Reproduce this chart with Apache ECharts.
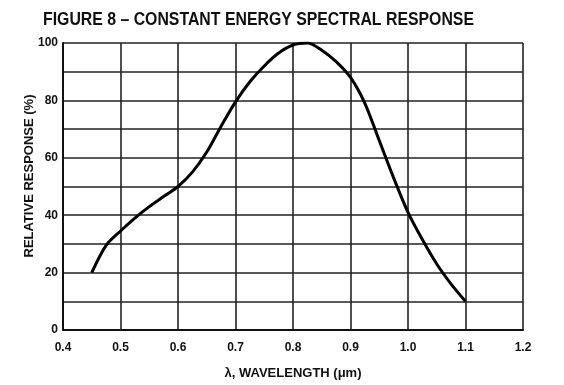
<!DOCTYPE html>
<html>
<head>
<meta charset="utf-8">
<script src="https://cdn.jsdelivr.net/npm/echarts@6/dist/echarts.min.js"></script>
<style>html,body{margin:0;padding:0;background:#fff}#c{width:564px;height:385px}</style>
</head>
<body>
<div id="c"></div>
<script>
var wavelength = [0.45,0.475,0.5,0.525,0.55,0.575,0.6,0.625,0.65,0.675,0.7,0.725,0.75,0.775,0.8,0.825,0.85,0.875,0.9,0.925,0.95,0.975,1.0,1.025,1.05,1.075,1.1];
var response   = [20,29.5,34.5,39,43,46.5,50,55,62,71,79.5,86.5,92,96.5,99.3,100,97.5,93.5,88,79,66,53,41,31.5,23,16,10];
var xTicks = ['0.4','0.5','0.6','0.7','0.8','0.9','1.0','1.1','1.2'];
var yTicks = ['0','20','40','60','80','100'];
var titleText = 'FIGURE 8 \u2013 CONSTANT ENERGY SPECTRAL RESPONSE';
var yName = 'RELATIVE RESPONSE (%)';
var xName = '\u03bb, WAVELENGTH (\u03bcm)';

var pts = wavelength.map(function(w,i){return [w, response[i]];});
var chart = echarts.init(document.getElementById('c'));
var fnt = '"Liberation Sans",Arial,sans-serif';
chart.setOption({
  animation:false,
  graphic:[
    {type:'text',left:43,top:11,scaleX:0.88,
     style:{text:titleText,font:'bold 18px "Liberation Sans", Arial, sans-serif',fill:'#111'}},
    {type:'text',x:29,y:176,rotation:Math.PI/2,
     style:{text:yName,font:'bold 13px "Liberation Sans", Arial, sans-serif',fill:'#111',
       textAlign:'center',textVerticalAlign:'middle'}}
  ],
  grid:{left:63,right:41,top:43,bottom:53},
  xAxis:{type:'value',min:0.4,max:1.2,interval:0.1,
    name:xName,nameLocation:'middle',nameGap:37,
    nameTextStyle:{fontFamily:fnt,fontSize:13,fontWeight:'bold',color:'#111'},
    axisLine:{show:true,lineStyle:{color:'#111',width:2}},
    axisTick:{show:false},
    axisLabel:{fontFamily:fnt,fontSize:12,fontWeight:'bold',color:'#111',margin:12,
      formatter:function(v){var i=Math.round((v-0.4)*10);return xTicks[i]||'';}},
    splitLine:{show:true,lineStyle:{color:'#222',width:1.6}}},
  yAxis:{type:'value',min:0,max:100,interval:10,
    axisLine:{show:true,lineStyle:{color:'#111',width:2}},
    axisTick:{show:false},
    axisLabel:{fontFamily:fnt,fontSize:12,fontWeight:'bold',color:'#111',margin:5,
      formatter:function(v){return (v%20===0)?yTicks[v/20]:'';}},
    splitLine:{show:true,lineStyle:{color:'#222',width:1.6}}},
  series:[{type:'line',data:pts,smooth:0.3,symbol:'none',
    lineStyle:{color:'#000',width:3}}]
});
</script>
</body>
</html>
